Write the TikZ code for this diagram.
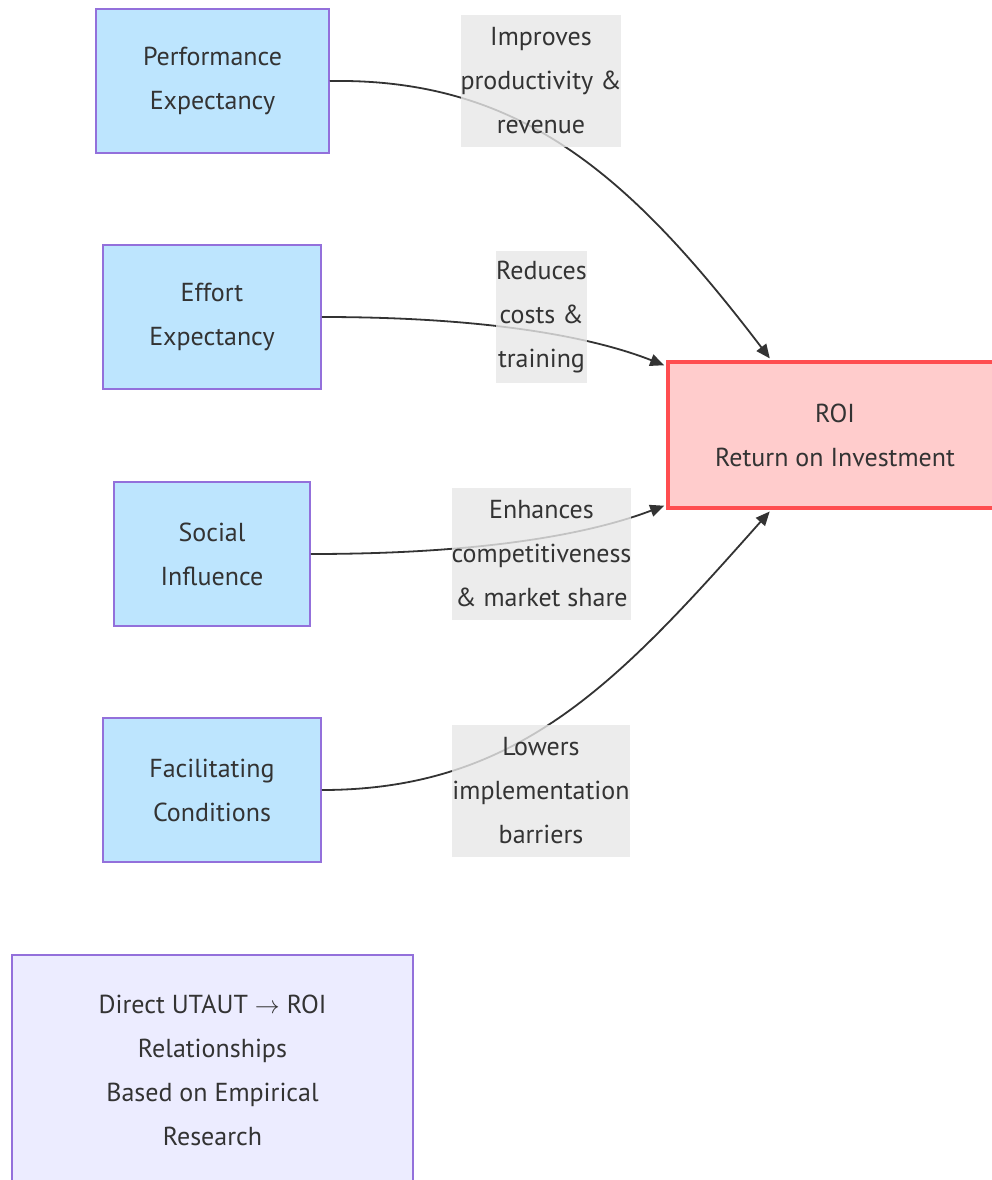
\documentclass[tikz,border=0pt]{standalone}
\usepackage{fontspec}
\setmainfont{PT Sans}
\usetikzlibrary{arrows.meta}
\definecolor{ubfill}{HTML}{BDE5FE}
\definecolor{ubdraw}{HTML}{9370DB}
\definecolor{roifill}{HTML}{FFCCCC}
\definecolor{roidraw}{HTML}{FF4D50}
\definecolor{notefill}{HTML}{ECECFF}
\definecolor{txt}{HTML}{333333}
\definecolor{lblfill}{HTML}{E8E8E8}
\begin{document}
\begin{tikzpicture}[x=1pt,y=-1pt,
  every node/.style={text=txt, align=center, font=\fontsize{26}{44}\selectfont, inner sep=0pt},
  ubox/.style={draw=ubdraw, fill=ubfill, line width=1.5pt, minimum height=144pt},
  roibox/.style={draw=roidraw, fill=roifill, line width=4pt},
  notebox/.style={draw=ubdraw, fill=notefill, line width=1.5pt},
  lbl/.style={fill=lblfill, fill opacity=0.8, text opacity=1, minimum height=132pt},
  conn/.style={draw=txt, line width=1.8pt, -{Triangle[length=14pt,width=12pt]}, shorten >=2pt}
]
\useasboundingbox (0,0) rectangle (991,1180);
\fill[white] (0,0) rectangle (991,1180);

\node[ubox, minimum width=233pt] (pe) at (212.5,81) {Performance\\Expectancy};
\node[ubox, minimum width=218pt] (ee) at (212,317) {Effort\\Expectancy};
\node[ubox, minimum width=196pt] (si) at (212,554) {Social\\Influence};
\node[ubox, minimum width=218pt] (fc) at (212,790) {Facilitating\\Conditions};
\node[roibox, minimum width=334pt, minimum height=146pt] (roi) at (835,435) {ROI\\Return on Investment};
\node[notebox, minimum width=401pt, minimum height=230pt] (note) at (212.5,1070) {Direct UTAUT $\rightarrow$ ROI\\Relationships\\Based on Empirical\\Research};

\draw[conn] (pe.east) .. controls (520,78) and (630,175) .. ([xshift=105pt]roi.north west);
\draw[conn] (ee.east) .. controls (500,317) and (600,340) .. ([yshift=-6pt]roi.north west);
\draw[conn] (si.east) .. controls (500,554) and (600,530) .. ([yshift=5pt]roi.south west);
\draw[conn] (fc.east) .. controls (520,790) and (620,680) .. ([xshift=105pt]roi.south west);

\node[lbl, minimum width=158pt] (l1) at (541,81) {Improves\\productivity \&\\revenue};
\node[lbl, minimum width=89pt] (l2) at (541.5,317) {Reduces\\costs \&\\training};
\node[lbl, minimum width=179pt] (l3) at (541.5,554) {Enhances\\competitiveness\\\& market share};
\node[lbl, minimum width=176pt] (l4) at (541,790.5) {Lowers\\implementation\\barriers};
\end{tikzpicture}
\end{document}
